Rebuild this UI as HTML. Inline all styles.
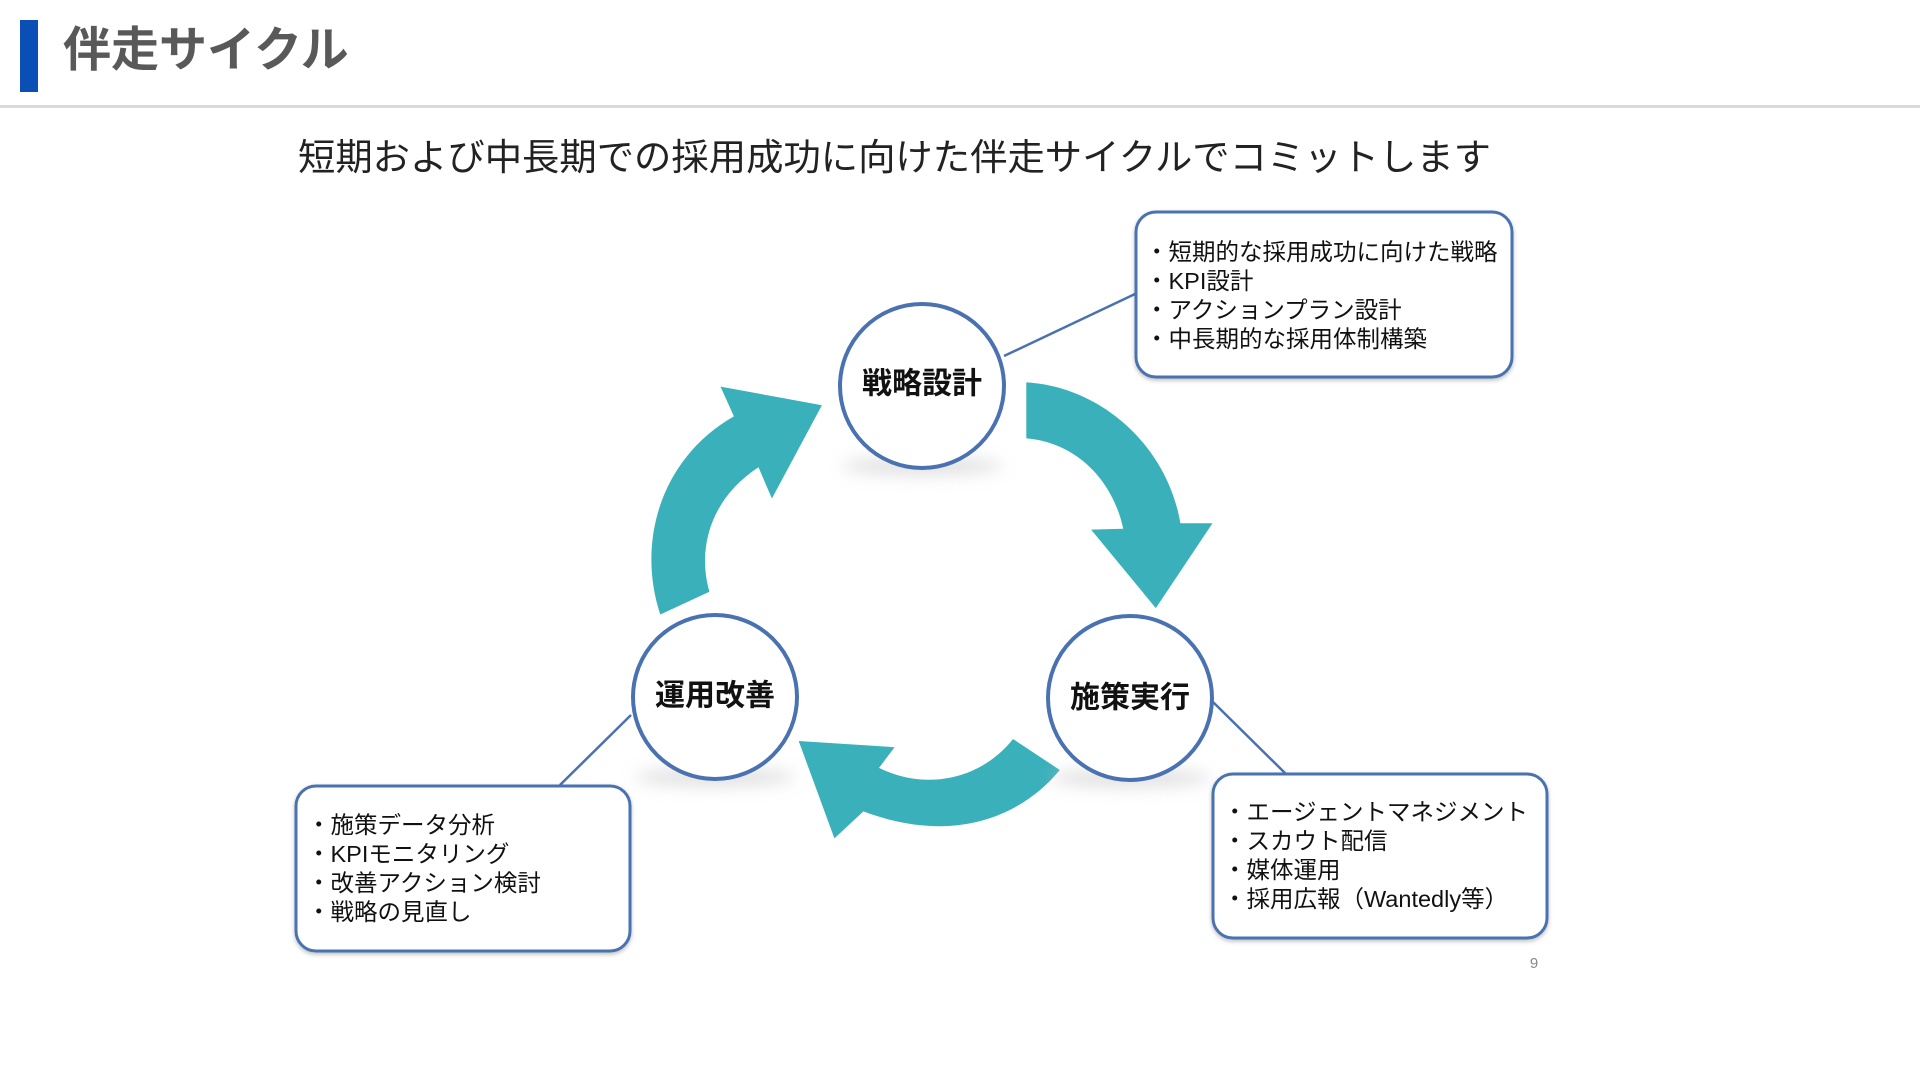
<!DOCTYPE html>
<html><head><meta charset="utf-8"><style>
html,body{margin:0;padding:0;background:#fff;width:1920px;height:1080px;overflow:hidden}
svg{display:block}
text{font-family:"Liberation Sans","Noto Sans CJK JP",sans-serif}
</style></head><body>
<svg width="1920" height="1080" viewBox="0 0 1920 1080" xmlns="http://www.w3.org/2000/svg">
<defs>
<filter id="blur" x="-50%" y="-50%" width="200%" height="200%"><feGaussianBlur stdDeviation="8"/></filter>
<filter id="bs" x="-10%" y="-10%" width="120%" height="130%"><feDropShadow dx="0" dy="2" stdDeviation="2" flood-color="#000" flood-opacity="0.25"/></filter>
</defs>
<rect x="20" y="20" width="18" height="72" fill="#0a4fb5"/>
<text x="63" y="66" font-size="48" font-weight="700" fill="#595959">伴走サイクル</text>
<rect x="0" y="105" width="1920" height="3" fill="#d9d9d9"/>
<text x="298" y="170" font-size="37" fill="#222" textLength="1193" lengthAdjust="spacingAndGlyphs">短期および中長期での採用成功に向けた伴走サイクルでコミットします</text>

<!-- arrows -->
<g fill="#3ab0bb">
<path d="M1026.3,382.4 C1100,386.6 1167,444.6 1180.4,523.3 L1212.5,523.3 L1155.8,608.1 L1091.1,529.6 L1123.2,528.7 C1113.4,481.9 1077.7,442.6 1026.3,438.4 Z"/>
<path d="M1059.8,770 C1024.1,813.5 957.1,846.7 863.4,811.4 L834.4,838.4 L798.7,741 L894.6,747.2 L879,767.9 C930.4,792.8 983.9,776.2 1013,739 Z"/>
<path d="M660.3,614.5 C635.7,539.9 662.5,457 733.9,416.4 L720.5,386.6 L821.9,405.2 L771.9,498.5 L758.5,467.3 C713.8,496.4 696,544 709.4,591.8 Z"/>
</g>

<!-- connectors -->
<g stroke="#4a72b0" stroke-width="2.5">
<line x1="1004" y1="356" x2="1135" y2="294"/>
<line x1="1213" y1="702" x2="1286" y2="774"/>
<line x1="631" y1="715" x2="560" y2="785"/>
</g>

<!-- circle shadows -->
<g fill="#ccc" filter="url(#blur)" opacity="0.6">
<ellipse cx="922" cy="466" rx="80" ry="9"/>
<ellipse cx="1130" cy="778" rx="80" ry="9"/>
<ellipse cx="715" cy="777" rx="80" ry="9"/>
</g>
<g fill="#fff" stroke="#4a72b0" stroke-width="4">
<circle cx="922" cy="386" r="82"/>
<circle cx="1130" cy="698" r="82"/>
<circle cx="715" cy="697" r="82"/>
</g>
<g font-size="30" font-weight="700" fill="#111" text-anchor="middle">
<text x="922" y="384" dominant-baseline="central">戦略設計</text>
<text x="1130" y="698" dominant-baseline="central">施策実行</text>
<text x="715" y="696" dominant-baseline="central">運用改善</text>
</g>

<!-- boxes -->
<g fill="#fff" stroke="#4a72b0" stroke-width="3" filter="url(#bs)">
<rect x="1136" y="212" width="376" height="165" rx="20"/>
<rect x="1213" y="774" width="334" height="164" rx="20"/>
<rect x="296" y="786" width="334" height="165" rx="20"/>
</g>
<g font-size="23.5" fill="#111">
<text x="1145" y="260">・短期的な採用成功に向けた戦略</text>
<text x="1145" y="289">・KPI設計</text>
<text x="1145" y="318">・アクションプラン設計</text>
<text x="1145" y="347">・中長期的な採用体制構築</text>
<text x="1223" y="820">・エージェントマネジメント</text>
<text x="1223" y="849">・スカウト配信</text>
<text x="1223" y="878">・媒体運用</text>
<text x="1223" y="907">・採用広報（Wantedly等）</text>
<text x="307" y="833">・施策データ分析</text>
<text x="307" y="862">・KPIモニタリング</text>
<text x="307" y="891">・改善アクション検討</text>
<text x="307" y="920">・戦略の見直し</text>
</g>
<text x="1534" y="968" font-size="15" fill="#888" text-anchor="middle">9</text>
</svg>
</body></html>
